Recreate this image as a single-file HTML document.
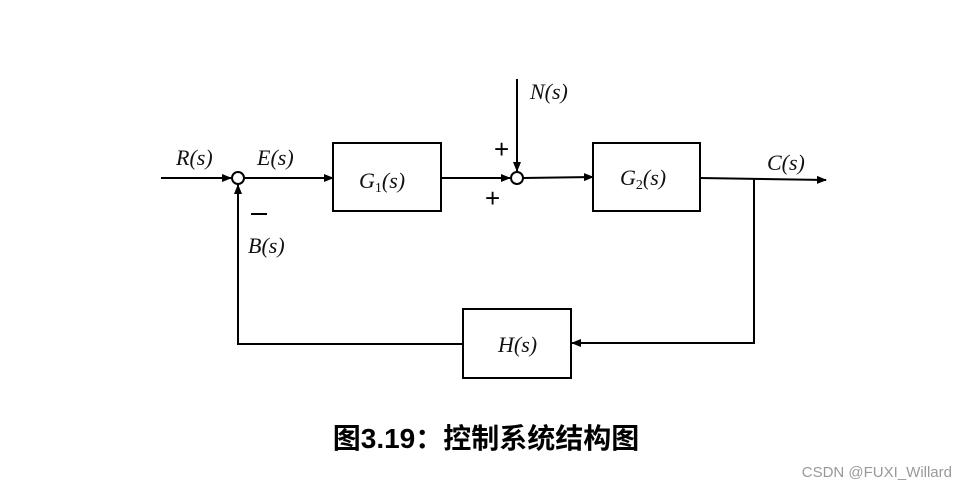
<!DOCTYPE html>
<html><head><meta charset="utf-8"><style>
html,body{margin:0;padding:0;background:#fff;}
svg{display:block;}
.m{font-family:"Liberation Serif","DejaVu Serif",serif;font-style:italic;font-size:22px;fill:#111;}
</style></head><body>
<svg width="967" height="490" viewBox="0 0 967 490" xmlns="http://www.w3.org/2000/svg">
<defs><marker id="a" markerWidth="10" markerHeight="8" refX="9" refY="4" orient="auto" markerUnits="userSpaceOnUse"><path d="M0,0 L10,4 L0,8 Z" fill="#000"/></marker></defs>
<g stroke="#000" stroke-width="2" fill="none">
<line x1="161" y1="178" x2="231" y2="178" marker-end="url(#a)"/>
<circle cx="238" cy="178" r="6" fill="#fff"/>
<line x1="244" y1="178" x2="333" y2="178" marker-end="url(#a)"/>
<rect x="333" y="143" width="108" height="68"/>
<line x1="441" y1="178" x2="510" y2="178" marker-end="url(#a)"/>
<circle cx="517" cy="178" r="6" fill="#fff"/>
<line x1="517" y1="79" x2="517" y2="171" marker-end="url(#a)"/>
<line x1="523" y1="178" x2="593" y2="177" marker-end="url(#a)"/>
<rect x="593" y="143" width="107" height="68"/>
<line x1="700" y1="178" x2="826" y2="180" marker-end="url(#a)"/>
<polyline points="754,178 754,343 572,343" marker-end="url(#a)"/>
<rect x="463" y="309" width="108" height="69"/>
<polyline points="463,344 238,344 238,185" marker-end="url(#a)"/>
</g>
<text class="m" x="176" y="165">R(s)</text>
<text class="m" x="257" y="165">E(s)</text>
<text class="m" x="359" y="188">G<tspan font-size="14" dy="4" font-style="normal">1</tspan><tspan dy="-4">(s)</tspan></text>
<text class="m" x="620" y="185">G<tspan font-size="14" dy="4" font-style="normal">2</tspan><tspan dy="-4">(s)</tspan></text>
<text class="m" x="530" y="99">N(s)</text>
<text class="m" x="767" y="170">C(s)</text>
<text class="m" x="248" y="253">B(s)</text>
<text class="m" x="498" y="352">H(s)</text>
<text x="494" y="158" font-family="Liberation Sans,sans-serif" font-size="26" fill="#000">+</text>
<text x="485" y="207" font-family="Liberation Sans,sans-serif" font-size="26" fill="#000">+</text>
<line x1="251" y1="214" x2="267" y2="214" stroke="#000" stroke-width="2"/>
<text x="486" y="448" text-anchor="middle" font-family="Liberation Sans,'Noto Sans CJK SC',sans-serif" font-weight="bold" font-size="28" fill="#000">图3.19：控制系统结构图</text>
<text x="952" y="477" text-anchor="end" font-family="Liberation Sans,sans-serif" font-size="15" fill="#999">CSDN @FUXI_Willard</text>
</svg>
</body></html>
